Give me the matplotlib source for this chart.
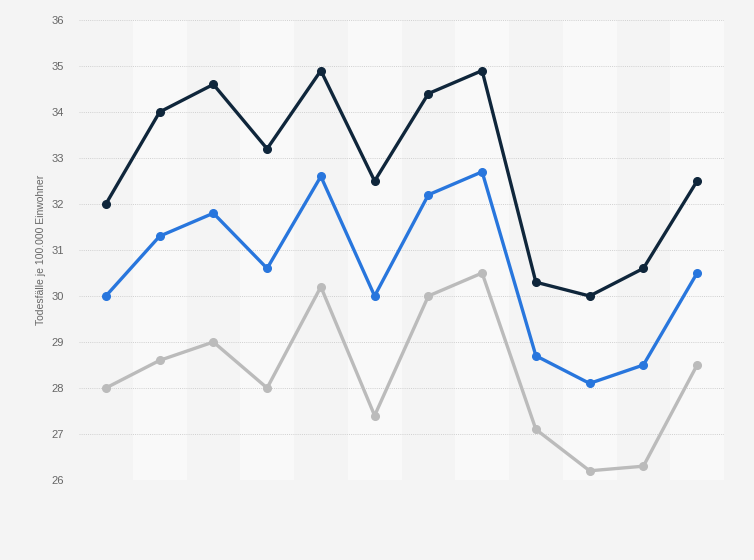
import matplotlib
matplotlib.use("Agg")
import matplotlib.pyplot as plt

plt.rcParams['font.family'] = ['Liberation Sans', 'DejaVu Sans']

categories = list(range(12))
series_dark = [32.0, 34.0, 34.6, 33.2, 34.9, 32.5, 34.4, 34.9, 30.3, 30.0, 30.6, 32.5]
series_blue = [30.0, 31.3, 31.8, 30.6, 32.6, 30.0, 32.2, 32.7, 28.7, 28.1, 28.5, 30.5]
series_gray = [28.0, 28.6, 29.0, 28.0, 30.2, 27.4, 30.0, 30.5, 27.1, 26.2, 26.3, 28.5]
yticks = list(range(26, 37))

fig = plt.figure(figsize=(7.54, 5.6), dpi=100)
fig.patch.set_facecolor("#f4f4f4")
ax = fig.add_axes([79/754, 80/560, 645/754, 460/560])
ax.set_facecolor("#f4f4f4")

for i in categories:
    if i % 2 == 1:
        ax.axvspan(i - 0.5, i + 0.5, color="#f9f9f9", zorder=0, lw=0)

ax.set_xlim(-0.5, 11.5)
ax.set_ylim(26, 36)
ax.set_yticks(yticks)
ax.set_yticklabels([str(t) for t in yticks])
ax.set_xticks([])
ax.grid(axis="y", color="#d0d0d0", linestyle=(0, (1, 1.2)), linewidth=0.7, zorder=1)
for s in ax.spines.values():
    s.set_visible(False)
ax.tick_params(axis="y", length=0, pad=11, labelcolor="#666666", labelsize=8)

for data, col in [(series_gray, "#bbbbbb"), (series_blue, "#2876dd"), (series_dark, "#0f263b")]:
    ax.plot(categories, data, color=col, lw=2.4, marker="o", markersize=5.5, zorder=3, clip_on=False)

ax.set_ylabel("Todesfälle je 100.000 Einwohner", color="#666666", fontsize=7.5, labelpad=4)

fig.savefig("out.png", dpi=100, facecolor=fig.get_facecolor())
